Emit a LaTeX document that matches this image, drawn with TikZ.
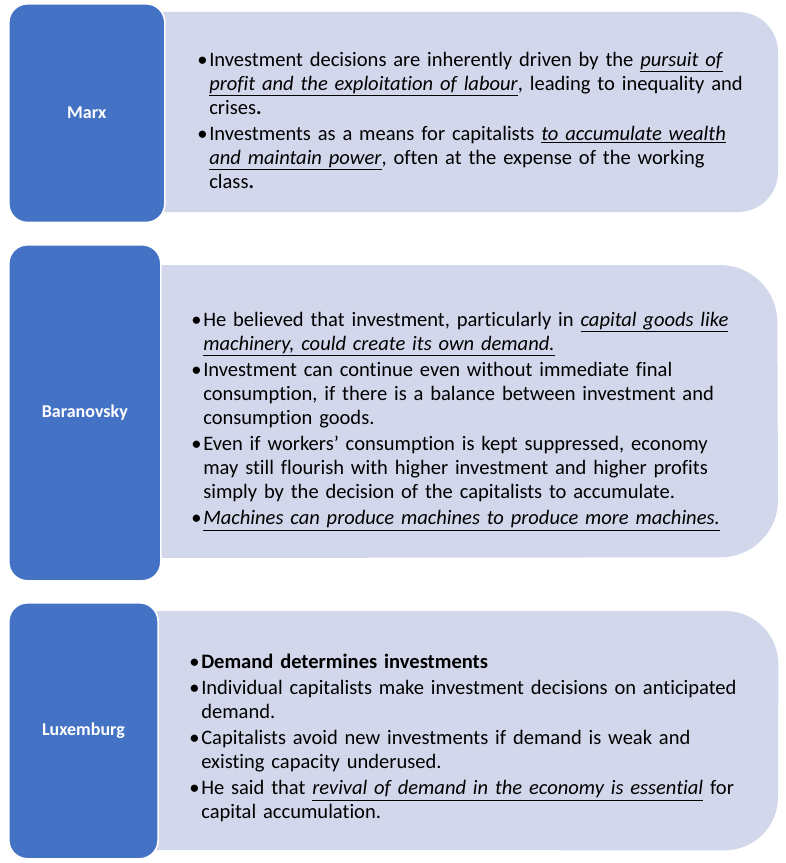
\documentclass[tikz,border=0pt]{standalone}
\usepackage{fontspec}
\setmainfont[Ligatures={NoCommon,NoDiscretionary}]{Carlito}
\definecolor{bblue}{HTML}{4472C4}
\definecolor{lav}{HTML}{D3D7EB}
\newcommand{\bul}[1]{\par\hangindent=9pt\hangafter=1\noindent\makebox[9pt][l]{•}#1\par\vspace{1.6pt}}
\begin{document}
\begin{tikzpicture}[x=0.75pt,y=-0.75pt,
  lbox/.style={fill=bblue,draw=white,line width=1.2pt,rounded corners=14pt},
  rbox/.style={fill=lav},
  lab/.style={text=white,font=\fontsize{13.5}{16}\selectfont\bfseries},
  txt/.style={anchor=north west,inner sep=0pt,text width=430pt,font=\fontsize{15.4}{18}\selectfont}]
\useasboundingbox (0,0) rectangle (785,863);
% right boxes
\fill[rbox] (150,12) -- (738,12) arc[start angle=90,end angle=0,radius=30pt] -- (778,172) arc[start angle=0,end angle=-90,radius=30pt] -- (150,212) -- cycle;
\fill[rbox] (150,265) -- (720,265) arc[start angle=90,end angle=0,radius=43pt] -- (778,500) arc[start angle=0,end angle=-90,radius=43pt] -- (150,558) -- cycle;
\fill[rbox] (150,611) -- (725,611) arc[start angle=90,end angle=0,radius=40pt] -- (778,797) arc[start angle=0,end angle=-90,radius=40pt] -- (150,850) -- cycle;
% left boxes
\node[lbox,minimum width=117pt,minimum height=164pt,anchor=north west,lab] (marx) at (8,3) {Marx};
\node[lbox,minimum width=114pt,minimum height=252pt,anchor=north west,lab] (bar) at (8,244) {Baranovsky};
\node[lbox,minimum width=112pt,minimum height=192pt,anchor=north west,lab] (lux) at (8,602) {Luxemburg};
\node[txt] (t1) at (197,42) {%
\bul{Investment decisions are inherently driven by the \underline{\textit{pursuit of}}\newline \underline{\textit{profit and the exploitation of labour}}, leading to inequality and\newline crises\textbf{.}}
\bul{Investments as a means for capitalists \underline{\textit{to accumulate wealth}}\newline \underline{\textit{and maintain power}}, often at the expense of the working\newline class\textbf{.}}};
\node[txt] (t2) at (191,302) {%
\bul{He believed that investment, particularly in \underline{\textit{capital goods like}}\newline \underline{\textit{machinery, could create its own demand.}}}
\bul{Investment can continue even without immediate final\newline consumption, if there is a balance between investment and\newline consumption goods.}
\bul{Even if workers’ consumption is kept suppressed, economy\newline may still flourish with higher investment and higher profits\newline simply by the decision of the capitalists to accumulate.}
\bul{\underline{\textit{Machines can produce machines to produce more machines.}}}};
\node[txt] (t3) at (189,644) {%
\bul{\textbf{Demand determines investments}}
\bul{Individual capitalists make investment decisions on anticipated\newline demand.}
\bul{Capitalists avoid new investments if demand is weak and\newline existing capacity underused.}
\bul{He said that \underline{\textit{revival of demand in the economy is essential}} for\newline capital accumulation.}};
\end{tikzpicture}
\end{document}
